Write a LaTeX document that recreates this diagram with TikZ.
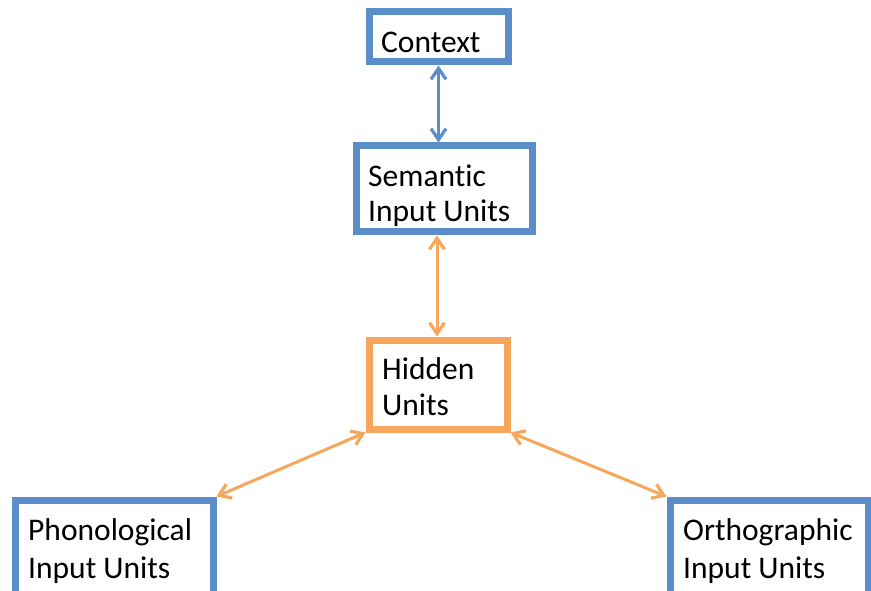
\documentclass[tikz,border=0pt]{standalone}
\usepackage{fontspec}
\setmainfont{Carlito}[Ligatures=NoCommon]
\usetikzlibrary{arrows.meta}

\definecolor{unitblue}{HTML}{5B8DC8}
\definecolor{unitorange}{HTML}{F6A75C}

\tikzset{
  unitbox/.style={draw=#1, line width=7pt, rectangle, inner sep=0pt, fill=white},
  label line/.style={anchor=base west, inner sep=0pt, font=\fontsize{31.5}{37}\selectfont},
  link/.style={draw=#1, line width=3pt,
    {Straight Barb[length=11pt,width=15pt,line width=3.2pt]}-{Straight Barb[length=11pt,width=15pt,line width=3.2pt]}},
}

\begin{document}
\begin{tikzpicture}[x=1pt, y=-1pt]
  \useasboundingbox (0,0) rectangle (871,591);
  \clip (0,0) rectangle (871,591);

  % boxes
  \node[unitbox=unitblue, minimum width=139pt, minimum height=50pt] (ctx) at (438.5,37) {};
  \node[unitbox=unitblue, minimum width=176pt, minimum height=86pt] (sem) at (444,189) {};
  \node[unitbox=unitorange, minimum width=138pt, minimum height=89pt] (hid) at (438,384.5) {};
  \node[unitbox=unitblue, minimum width=198pt, minimum height=104pt] (pho) at (114,552) {};
  \node[unitbox=unitblue, minimum width=198pt, minimum height=104pt] (ort) at (769,552) {};

  % labels
  \node[label line] (ctxA) at (381,53) {Context};
  \node[label line] (semA) at (368,186) {Semantic};
  \node[label line] (semB) at (368,222) {Input Units};
  \node[label line] (hidA) at (382,379) {Hidden};
  \node[label line] (hidB) at (382,415) {Units};
  \node[label line] (phoA) at (28,540) {Phonological};
  \node[label line] (phoB) at (28,578) {Input Units};
  \node[label line] (ortA) at (683,540) {Orthographic};
  \node[label line] (ortB) at (683,578) {Input Units};

  % connections
  \draw[link=unitblue] (ctx.south) -- (ctx.south |- sem.north);
  \draw[link=unitorange] (hid.north -| 437,0) -- (sem.south -| 437,0);
  \draw[link=unitorange] (hid.south west) -- (pho.north east);
  \draw[link=unitorange] (hid.south east) -- (ort.north west);
\end{tikzpicture}
\end{document}
